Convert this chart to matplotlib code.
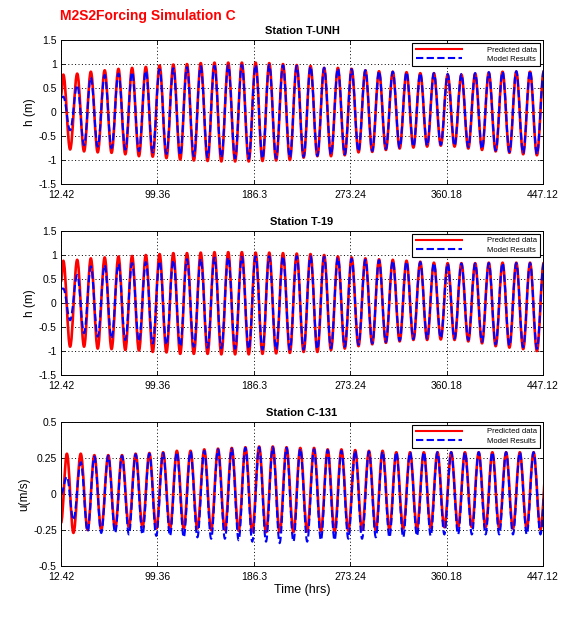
import matplotlib
matplotlib.use("Agg")
import matplotlib.pyplot as plt
from matplotlib.path import Path
from matplotlib.patches import PathPatch
from matplotlib.lines import Line2D

plt.rcParams["font.family"] = ["Liberation Sans", "DejaVu Sans"]

# x axis ticks (hrs)
xticks = [12.42, 99.36, 186.3, 273.24, 360.18, 447.12]
xticklabels = ["12.42", "99.36", "186.3", "273.24", "360.18", "447.12"]

# times of highs / lows (hrs)
h_high_t = [14.5, 27.0, 39.3, 51.8, 64.2, 76.5, 88.9, 101.3, 113.7, 126.0,
            138.4, 150.8, 163.2, 175.5, 187.9, 200.2, 212.6, 225.0, 237.4, 249.7,
            262.1, 274.5, 286.9, 299.2, 311.6, 324.0, 336.4, 348.7, 361.1, 373.5,
            385.9, 398.2, 410.6, 423.0, 435.4, 447.8]
h_low_t = [20.6, 33.2, 45.5, 58.0, 70.4, 82.7, 95.1, 107.5, 119.9, 132.2,
           144.6, 157.0, 169.4, 181.7, 194.1, 206.4, 218.8, 231.2, 243.6, 255.9,
           268.3, 280.7, 293.1, 305.4, 317.8, 330.2, 342.6, 354.9, 367.3, 379.7,
           392.1, 404.4, 416.8, 429.2, 441.6]

# Station T-UNH, h (m)
unh_pred_start = 0.35
unh_pred_high = [0.78, 0.80, 0.84, 0.87, 0.90, 0.92, 0.94, 0.97, 0.99, 1.00,
                 1.02, 1.03, 1.03, 1.03, 1.03, 1.02, 1.00, 0.98, 0.96, 0.92,
                 0.92, 0.90, 0.87, 0.85, 0.84, 0.83, 0.81, 0.81, 0.78, 0.78,
                 0.80, 0.82, 0.84, 0.84, 0.84, 0.85]
unh_pred_low = [-0.78, -0.82, -0.84, -0.85, -0.88, -0.92, -0.93, -0.96, -0.99, -1.01,
                -1.02, -1.03, -1.03, -1.03, -1.02, -1.01, -1.00, -0.95, -0.92, -0.92,
                -0.90, -0.84, -0.83, -0.79, -0.76, -0.74, -0.72, -0.70, -0.72, -0.76,
                -0.79, -0.82, -0.85, -0.88, -0.90]
unh_model_start = 0.30
unh_model_high = [0.32, 0.56, 0.72, 0.77, 0.80, 0.83, 0.86, 0.89, 0.91, 0.93,
                  0.95, 0.96, 0.97, 0.98, 0.98, 0.98, 0.97, 0.96, 0.95, 0.92,
                  0.91, 0.89, 0.87, 0.85, 0.84, 0.83, 0.81, 0.81, 0.79, 0.79,
                  0.81, 0.83, 0.84, 0.85, 0.86, 0.86]
unh_model_low = [-0.38, -0.69, -0.72, -0.75, -0.78, -0.81, -0.84, -0.87, -0.90, -0.92,
                 -0.94, -0.95, -0.96, -0.97, -0.97, -0.96, -0.95, -0.93, -0.91, -0.89,
                 -0.88, -0.82, -0.81, -0.77, -0.74, -0.72, -0.70, -0.68, -0.70, -0.73,
                 -0.77, -0.80, -0.83, -0.86, -0.88]

# Station T-19, h (m)
t19_pred_start = 0.45
t19_pred_high = [0.88, 0.90, 0.93, 0.95, 0.97, 0.98, 1.00, 1.02, 1.04, 1.04,
                 1.05, 1.06, 1.06, 1.06, 1.05, 1.05, 1.04, 1.03, 1.02, 1.00,
                 0.97, 0.95, 0.93, 0.91, 0.90, 0.88, 0.86, 0.84, 0.83, 0.83,
                 0.83, 0.84, 0.84, 0.84, 0.84, 0.84]
t19_pred_low = [-0.91, -0.91, -0.95, -0.96, -0.98, -0.99, -1.02, -1.03, -1.06, -1.06,
                -1.06, -1.07, -1.07, -1.07, -1.06, -1.05, -1.04, -1.02, -1.02, -0.98,
                -0.95, -0.90, -0.86, -0.83, -0.80, -0.77, -0.77, -0.76, -0.77, -0.80,
                -0.84, -0.90, -0.93, -0.96, -1.00]
t19_model_start = 0.30
t19_model_high = [0.30, 0.58, 0.76, 0.79, 0.81, 0.83, 0.85, 0.87, 0.89, 0.91,
                  0.92, 0.94, 0.95, 0.96, 0.97, 0.97, 0.97, 0.97, 0.97, 0.96,
                  0.94, 0.92, 0.90, 0.89, 0.88, 0.86, 0.85, 0.83, 0.82, 0.82,
                  0.82, 0.83, 0.83, 0.83, 0.83, 0.83]
t19_model_low = [-0.36, -0.63, -0.70, -0.74, -0.77, -0.80, -0.84, -0.87, -0.90, -0.91,
                 -0.93, -0.94, -0.95, -0.96, -0.97, -0.97, -0.97, -0.97, -0.96, -0.94,
                 -0.91, -0.87, -0.84, -0.81, -0.78, -0.75, -0.74, -0.73, -0.74, -0.77,
                 -0.81, -0.86, -0.89, -0.92, -0.95]

# Station C-131, u (m/s): highs / lows come about 3 hrs later
u_high_t = [17.7, 30.2, 42.5, 55.0, 67.4, 79.7, 92.1, 104.5, 116.9, 129.2,
            141.6, 154.0, 166.4, 178.7, 191.1, 203.4, 215.8, 228.2, 240.6, 252.9,
            265.3, 277.7, 290.1, 302.4, 314.8, 327.2, 339.6, 351.9, 364.3, 376.7,
            389.1, 401.4, 413.8, 426.2, 438.6, 451.0]
u_low_t = [23.6, 36.4, 48.7, 61.2, 73.6, 85.9, 98.3, 110.7, 123.1, 135.4,
           147.8, 160.2, 172.6, 184.9, 197.3, 209.6, 222.0, 234.4, 246.8, 259.1,
           271.5, 283.9, 296.3, 308.6, 321.0, 333.4, 345.8, 358.1, 370.5, 382.9,
           395.3, 407.6, 420.0, 432.4, 444.8]
c131_pred_start = -0.20
c131_pred_high = [0.28, 0.28, 0.27, 0.27, 0.27, 0.28, 0.285, 0.29, 0.30, 0.30,
                  0.31, 0.315, 0.32, 0.325, 0.33, 0.33, 0.325, 0.32, 0.32, 0.31,
                  0.31, 0.305, 0.30, 0.30, 0.29, 0.29, 0.29, 0.29, 0.29, 0.29,
                  0.29, 0.29, 0.29, 0.29, 0.29, 0.29]
c131_pred_low = [-0.27, -0.25, -0.25, -0.24, -0.23, -0.23, -0.24, -0.24, -0.24, -0.24,
                 -0.25, -0.25, -0.255, -0.26, -0.265, -0.265, -0.265, -0.26, -0.26, -0.26,
                 -0.255, -0.25, -0.25, -0.245, -0.24, -0.24, -0.235, -0.23, -0.23, -0.23,
                 -0.23, -0.235, -0.24, -0.24, -0.245]
c131_model_start = 0.0
c131_model_high = [0.12, 0.22, 0.26, 0.265, 0.265, 0.275, 0.28, 0.285, 0.29, 0.295,
                   0.30, 0.31, 0.315, 0.32, 0.325, 0.325, 0.32, 0.315, 0.31, 0.305,
                   0.30, 0.30, 0.295, 0.295, 0.29, 0.29, 0.29, 0.29, 0.29, 0.29,
                   0.29, 0.29, 0.29, 0.29, 0.29, 0.29]
c131_model_low = [-0.18, -0.26, -0.27, -0.27, -0.28, -0.28, -0.29, -0.29, -0.30, -0.30,
                  -0.31, -0.31, -0.32, -0.33, -0.33, -0.34, -0.33, -0.33, -0.32, -0.32,
                  -0.31, -0.31, -0.30, -0.30, -0.30, -0.29, -0.29, -0.28, -0.28, -0.28,
                  -0.28, -0.28, -0.28, -0.28, -0.28]


def tide_path(start, high_t, high_v, low_t, low_v):
    # smooth curve through the extremes (flat at each high / low)
    ts, vs = [xticks[0]], [start]
    for i in range(len(high_t)):
        ts.append(high_t[i])
        vs.append(high_v[i])
        if i < len(low_t):
            ts.append(low_t[i])
            vs.append(low_v[i])
    verts = [(ts[0], vs[0])]
    codes = [Path.MOVETO]
    for a in range(len(ts) - 1):
        d = 0.36 * (ts[a + 1] - ts[a])
        verts += [(ts[a] + d, vs[a]), (ts[a + 1] - d, vs[a + 1]), (ts[a + 1], vs[a + 1])]
        codes += [Path.CURVE4] * 3
    return Path(verts, codes)


panels = [
    ("Station T-UNH", "h (m)", h_high_t, h_low_t,
     (unh_pred_start, unh_pred_high, unh_pred_low),
     (unh_model_start, unh_model_high, unh_model_low),
     [-1.5, -1, -0.5, 0, 0.5, 1, 1.5], ["-1.5", "-1", "-0.5", "0", "0.5", "1", "1.5"]),
    ("Station T-19", "h (m)", h_high_t, h_low_t,
     (t19_pred_start, t19_pred_high, t19_pred_low),
     (t19_model_start, t19_model_high, t19_model_low),
     [-1.5, -1, -0.5, 0, 0.5, 1, 1.5], ["-1.5", "-1", "-0.5", "0", "0.5", "1", "1.5"]),
    ("Station C-131", "u(m/s)", u_high_t, u_low_t,
     (c131_pred_start, c131_pred_high, c131_pred_low),
     (c131_model_start, c131_model_high, c131_model_low),
     [-0.5, -0.25, 0, 0.25, 0.5], ["-0.5", "-0.25", "0", "0.25", "0.5"]),
]

fig = plt.figure(figsize=(5.79, 6.19), dpi=100)
bottoms = [0.7027, 0.3942, 0.0856]

for (title, ylabel, ht, lt, pred, model, yt, ytl), b in zip(panels, bottoms):
    ax = fig.add_axes([0.1054, b, 0.8325, 0.2326])
    ax.add_patch(PathPatch(tide_path(pred[0], ht, pred[1], lt, pred[2]),
                           fill=False, edgecolor="#ff0000", linewidth=1.9,
                           capstyle="round", joinstyle="round"))
    ax.add_patch(PathPatch(tide_path(model[0], ht, model[1], lt, model[2]),
                           fill=False, edgecolor="#0000ff", linewidth=1.5,
                           linestyle=(0, (3.5, 1.6))))
    ax.set_xlim(xticks[0], xticks[-1])
    ax.set_ylim(yt[0], yt[-1])
    ax.set_xticks(xticks)
    ax.set_xticklabels(xticklabels)
    ax.set_yticks(yt)
    ax.set_yticklabels(ytl)
    ax.tick_params(direction="in", labelsize=7.5, top=True, right=True,
                   length=3, width=0.6, pad=3)
    ax.tick_params(axis="x", pad=4)
    ax.grid(True, linestyle=(0, (1, 2.5)), color="black", linewidth=0.7)
    ax.set_axisbelow(True)
    for s in ax.spines.values():
        s.set_linewidth(0.7)
    ax.set_title(title, fontsize=8, fontweight="bold", pad=4)
    ax.set_ylabel(ylabel, fontsize=8.5, labelpad=2)
    handles = [Line2D([], [], color="#ff0000", linewidth=1.5),
               Line2D([], [], color="#0000ff", linewidth=1.5, linestyle=(0, (3.5, 1.6)))]
    leg = ax.legend(handles, ["Predicted data", "Model Results"], loc="upper right",
                    fontsize=5.5, handlelength=6.0, handletextpad=3.3,
                    labelspacing=0.25, borderpad=0.45, borderaxespad=0.35,
                    fancybox=False, framealpha=1, edgecolor="black")
    leg.get_frame().set_linewidth(0.8)

ax.set_xlabel("Time (hrs)", fontsize=9, labelpad=2)
fig.text(0.104, 0.974, "M2S2Forcing Simulation C", color="#ff0000",
         fontsize=10, fontweight="bold", va="center", ha="left")

fig.savefig("out.png", dpi=100)
